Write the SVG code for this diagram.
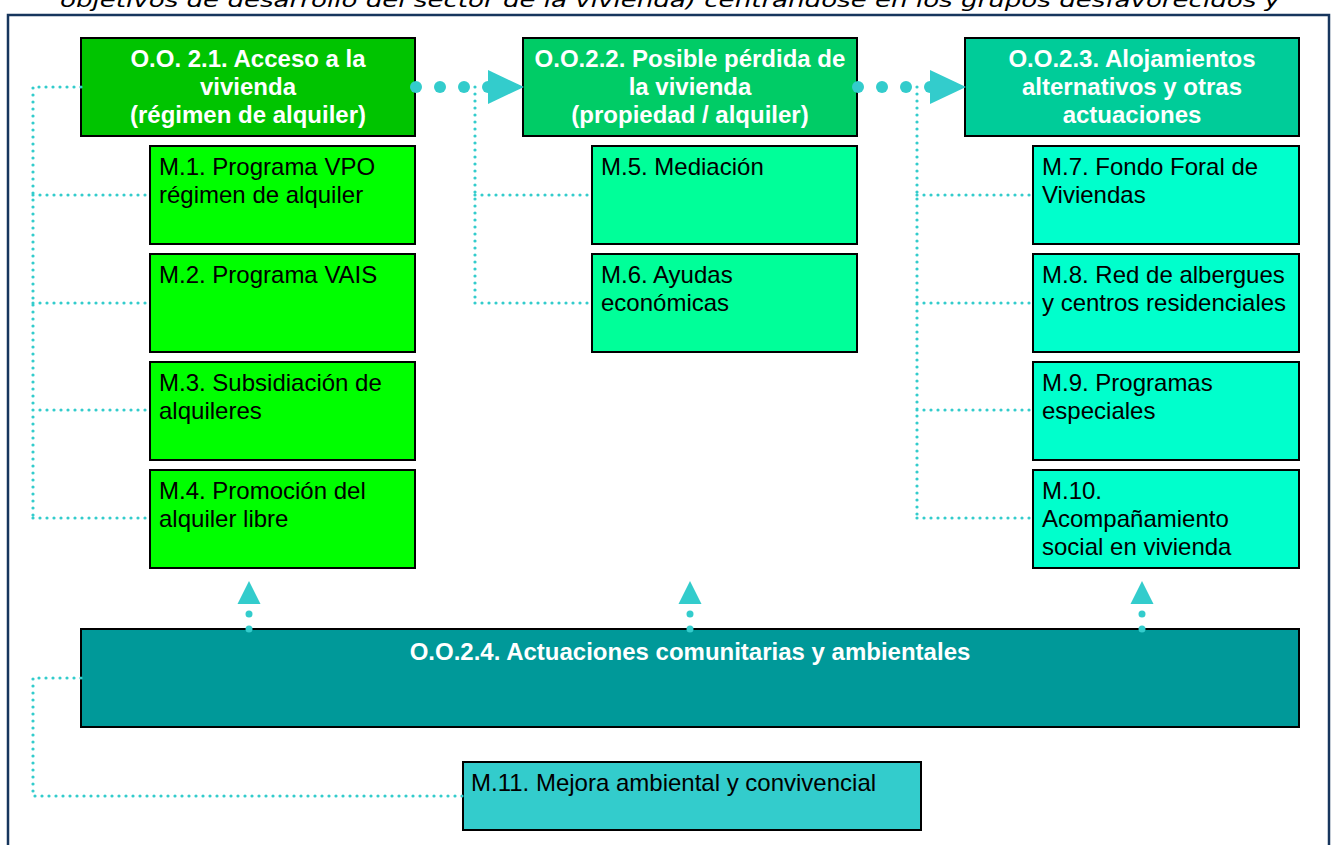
<svg xmlns="http://www.w3.org/2000/svg" width="1337" height="845" viewBox="0 0 1337 845">
<style>
.box{stroke:#000;stroke-width:2}
.hd{font-family:"Liberation Sans",Arial,sans-serif;font-size:24px;font-weight:bold;fill:#fff;text-anchor:middle}
.mt{font-family:"Liberation Sans",Arial,sans-serif;font-size:24px;fill:#000}
.dot{fill:none;stroke:#33CCCC;stroke-width:3.2;stroke-linecap:round;stroke-dasharray:0 7}
.big{fill:#33CCCC}
</style>
<rect width="1337" height="845" fill="#fff"/>
<text x="60" y="7" font-family="DejaVu Sans,Verdana,sans-serif" font-style="italic" font-size="19" textLength="1220" lengthAdjust="spacingAndGlyphs" fill="#000">objetivos de desarrollo del sector de la vivienda) centrándose en los grupos desfavorecidos y</text>
<rect x="8" y="15" width="1321" height="850" fill="none" stroke="#17365D" stroke-width="2.5"/>

<g id="oo21"><rect class="box" x="81" y="38" width="334" height="98" fill="#00C400"/>
<text class="hd" x="248" y="67">O.O. 2.1. Acceso a la</text><text class="hd" x="248" y="95">vivienda</text><text class="hd" x="248" y="123">(régimen de alquiler)</text></g>
<g id="oo22"><rect class="box" x="523" y="38" width="334" height="98" fill="#00CC66"/>
<text class="hd" x="690" y="67">O.O.2.2. Posible pérdida de</text><text class="hd" x="690" y="95">la vivienda</text><text class="hd" x="690" y="123">(propiedad / alquiler)</text></g>
<g id="oo23"><rect class="box" x="965" y="38" width="334" height="98" fill="#00CC99"/>
<text class="hd" x="1132" y="67">O.O.2.3. Alojamientos</text><text class="hd" x="1132" y="95">alternativos y otras</text><text class="hd" x="1132" y="123">actuaciones</text></g>

<g id="m1"><rect class="box" x="150" y="146" width="265" height="98" fill="#00FF00"/><text class="mt" x="159" y="175">M.1. Programa VPO</text><text class="mt" x="159" y="203">régimen de alquiler</text></g>
<g id="m2"><rect class="box" x="150" y="254" width="265" height="98" fill="#00FF00"/><text class="mt" x="159" y="283">M.2. Programa VAIS</text></g>
<g id="m3"><rect class="box" x="150" y="362" width="265" height="98" fill="#00FF00"/><text class="mt" x="159" y="391">M.3. Subsidiación de</text><text class="mt" x="159" y="419">alquileres</text></g>
<g id="m4"><rect class="box" x="150" y="470" width="265" height="98" fill="#00FF00"/><text class="mt" x="159" y="499">M.4. Promoción del</text><text class="mt" x="159" y="527">alquiler libre</text></g>

<g id="m5"><rect class="box" x="592" y="146" width="265" height="98" fill="#00FF99"/><text class="mt" x="601" y="175">M.5. Mediación</text></g>
<g id="m6"><rect class="box" x="592" y="254" width="265" height="98" fill="#00FF99"/><text class="mt" x="601" y="283">M.6. Ayudas</text><text class="mt" x="601" y="311">económicas</text></g>

<g id="m7"><rect class="box" x="1033" y="146" width="266" height="98" fill="#00FFCC"/><text class="mt" x="1042" y="175">M.7. Fondo Foral de</text><text class="mt" x="1042" y="203">Viviendas</text></g>
<g id="m8"><rect class="box" x="1033" y="254" width="266" height="98" fill="#00FFCC"/><text class="mt" x="1042" y="283">M.8. Red de albergues</text><text class="mt" x="1042" y="311">y centros residenciales</text></g>
<g id="m9"><rect class="box" x="1033" y="362" width="266" height="98" fill="#00FFCC"/><text class="mt" x="1042" y="391">M.9. Programas</text><text class="mt" x="1042" y="419">especiales</text></g>
<g id="m10"><rect class="box" x="1033" y="470" width="266" height="98" fill="#00FFCC"/><text class="mt" x="1042" y="499">M.10.</text><text class="mt" x="1042" y="527">Acompañamiento</text><text class="mt" x="1042" y="555">social en vivienda</text></g>

<g id="oo24"><rect class="box" x="81" y="629" width="1218" height="98" fill="#009999"/><text class="hd" x="690" y="660">O.O.2.4. Actuaciones comunitarias y ambientales</text></g>
<g id="m11"><rect class="box" x="463" y="762" width="458" height="68" fill="#33CCCC"/><text class="mt" x="471" y="791">M.11. Mejora ambiental y convivencial</text></g>

<g id="connectors">
<path class="dot" d="M81 87H33V518M33 195H150M33 303H150M33 410H150M33 518H150"/>
<path class="dot" d="M475 87V303M475 195H592M475 303H592"/>
<path class="dot" d="M917 87V518M917 195H1033M917 303H1033M917 410H1033M917 518H1033"/>
<path class="dot" d="M81 678H33V796H463"/>
<g class="big">
<circle cx="416" cy="87" r="6"/><circle cx="440" cy="87" r="6"/><circle cx="464" cy="87" r="6"/><circle cx="488" cy="87" r="6"/>
<polygon points="488,70 524,87 488,104"/>
<circle cx="858" cy="87" r="6"/><circle cx="882" cy="87" r="6"/><circle cx="906" cy="87" r="6"/><circle cx="930" cy="87" r="6"/>
<polygon points="930,70 966,87 930,104"/>
<circle cx="249" cy="629" r="3.5"/><circle cx="249" cy="614" r="3.5"/><polygon points="237.5,604 249,581 260.5,604"/>
<circle cx="690" cy="629" r="3.5"/><circle cx="690" cy="614" r="3.5"/><polygon points="678.5,604 690,581 701.5,604"/>
<circle cx="1142" cy="629" r="3.5"/><circle cx="1142" cy="614" r="3.5"/><polygon points="1130.5,604 1142,581 1153.5,604"/>
</g>
</g>
</svg>
